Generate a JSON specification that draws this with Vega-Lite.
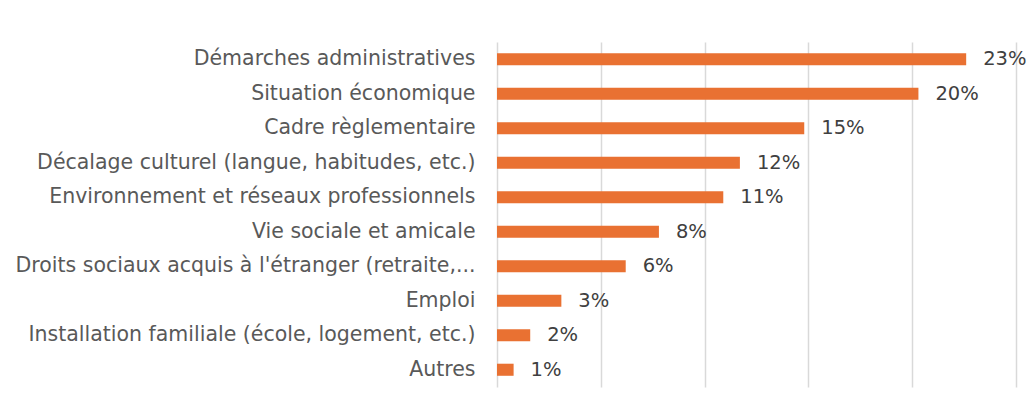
{
  "$schema": "https://vega.github.io/schema/vega-lite/v6.json",
  "autosize": "none",
  "width": 519,
  "height": 345,
  "padding": {"left": 497, "top": 42, "right": 17, "bottom": 21},
  "background": "white",
  "config": {"view": {"stroke": null}, "font": "DejaVu Sans"},
  "data": {"values": [
    {"cat": "Démarches administratives", "v": 0.226},
    {"cat": "Situation économique", "v": 0.203},
    {"cat": "Cadre règlementaire", "v": 0.148},
    {"cat": "Décalage culturel (langue, habitudes, etc.)", "v": 0.117},
    {"cat": "Environnement et réseaux professionnels", "v": 0.109},
    {"cat": "Vie sociale et amicale", "v": 0.078},
    {"cat": "Droits sociaux acquis à l'étranger (retraite,...", "v": 0.062},
    {"cat": "Emploi", "v": 0.031},
    {"cat": "Installation familiale (école, logement, etc.)", "v": 0.016},
    {"cat": "Autres", "v": 0.008}
  ]},
  "encoding": {
    "y": {"field": "cat", "type": "nominal", "sort": null,
      "scale": {"paddingInner": 0.65, "paddingOuter": 0.325},
      "axis": {"title": null, "domain": false, "ticks": false, "labelFontSize": 20.5, "labelColor": "#595959", "labelPadding": 22, "labelLimit": 600, "labelFont": "DejaVu Sans"}},
    "x": {"field": "v", "type": "quantitative",
      "scale": {"domain": [0, 0.25], "nice": false},
      "axis": {"title": null, "labels": false, "ticks": false, "domain": false, "values": [0, 0.05, 0.1, 0.15, 0.2, 0.25], "grid": true, "gridColor": "#D9D9D9", "gridWidth": 1.5}}
  },
  "layer": [
    {"mark": {"type": "bar", "color": "#E97132"}},
    {"mark": {"type": "text", "align": "left", "baseline": "middle", "dx": 17, "fontSize": 19.5, "color": "#404040", "font": "DejaVu Sans"},
     "encoding": {"text": {"field": "v", "type": "quantitative", "format": ".0%"}}}
  ]
}
